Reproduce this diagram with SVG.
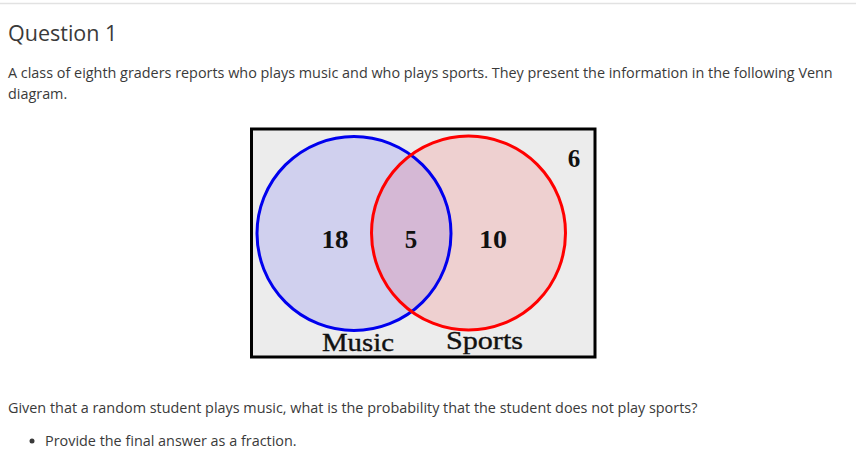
<svg xmlns="http://www.w3.org/2000/svg" width="856" height="452" viewBox="0 0 856 452">
<style>
.ui{font-family:"Open Sans","Noto Sans",sans-serif;fill:#3a3a3a}
.num{font-family:"Liberation Serif","DejaVu Serif",serif;font-weight:bold;font-size:25px;fill:#111;text-anchor:middle}
.lab{font-family:"Liberation Serif","DejaVu Serif",serif;font-size:25px;fill:#111;stroke:#111;stroke-width:0.35;text-anchor:middle}
</style>
<rect x="0" y="0" width="856" height="452" fill="#fff"/>
<line x1="0" y1="3.5" x2="856" y2="3.5" stroke="#e2e2e2" stroke-width="1.5"/>
<text class="ui" x="8" y="40.5" font-size="21.5">Question 1</text>
<text class="ui" x="8" y="78" font-size="14.4">A class of eighth graders reports who plays music and who plays sports. They present the information in the following Venn</text>
<text class="ui" x="8" y="99" font-size="14.4">diagram.</text>
<g id="venn">
<rect id="universe" x="251.5" y="129" width="343.5" height="228" fill="#ececec" stroke="#000" stroke-width="3"/>
<g id="music">
<circle cx="354" cy="233.5" r="97" fill="#d0d0ee" stroke="none"/>
</g>
<g id="sports">
<circle cx="468.5" cy="233" r="97" fill="#eed0d0" stroke="none"/>
</g>
<clipPath id="clipM"><circle cx="354" cy="233.5" r="97"/></clipPath>
<g id="overlap">
<circle cx="468.5" cy="233" r="97" fill="#d5b8d5" clip-path="url(#clipM)"/>
</g>
<circle cx="354" cy="233.5" r="97" fill="none" stroke="#0000ee" stroke-width="3"/>
<circle cx="468.5" cy="233" r="97" fill="none" stroke="#ff0000" stroke-width="3"/>
<text class="num" x="335" y="248" textLength="27" lengthAdjust="spacingAndGlyphs">18</text>
<text class="num" x="411" y="248">5</text>
<text class="num" x="493" y="248" textLength="28" lengthAdjust="spacingAndGlyphs">10</text>
<text class="num" x="574" y="167">6</text>
<text class="lab" x="358" y="351" textLength="72" lengthAdjust="spacingAndGlyphs">Music</text>
<text class="lab" x="484.5" y="348.5" textLength="77" lengthAdjust="spacingAndGlyphs">Sports</text>
</g>
<text class="ui" x="8" y="413" font-size="14.4">Given that a random student plays music, what is the probability that the student does not play sports?</text>
<circle cx="32" cy="441" r="2.5" fill="#3a3a3a"/>
<text class="ui" x="45" y="446" font-size="14.4">Provide the final answer as a fraction.</text>
</svg>
